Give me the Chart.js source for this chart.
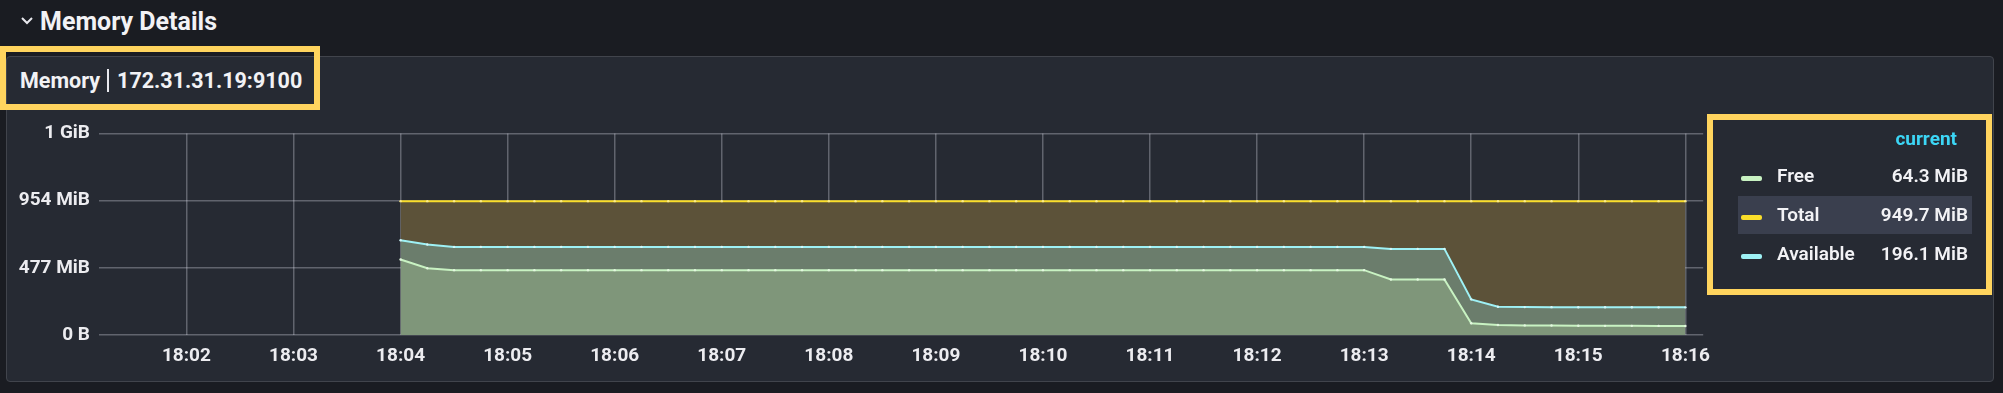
<!DOCTYPE html>
<html>
<head>
<meta charset="utf-8">
<script src="https://cdn.jsdelivr.net/npm/chart.js@4.4.1/dist/chart.umd.min.js"></script>
<style>
  html, body { margin: 0; padding: 0; }
  body { width: 2003px; height: 393px; background: #1a1c22; position: relative; overflow: hidden;
         font-family: Roboto, "Noto Sans", sans-serif; color: #f2f2f5; }
  .section { position: absolute; left: 40px; top: 6px; font-size: 25px; font-weight: 700; line-height: 32px; }
  .chev { position: absolute; left: 20px; top: 16px; }
  .panel { position: absolute; left: 6px; top: 56px; width: 1988px; height: 326px; background: #262a33;
           border: 1px solid #41444c; border-radius: 4px; box-sizing: border-box; }
  .hl { position: absolute; border: 6px solid #ffd45e; box-sizing: border-box; }
  .ptitle { position: absolute; left: 20px; top: 68px; font-size: 21.5px; font-weight: 700; line-height: 26px; }
  .ptitle .sep { display: inline-block; width: 2px; height: 23px; background: #e8e8ee; vertical-align: -4px; margin: 0 8px 0 7px; }
  #chart-wrap { position: absolute; left: 0; top: 113px; width: 1720px; height: 267px; }
  .legend { position: absolute; left: 1707px; top: 114px; width: 285px; height: 181px; }
  .lg-head { position: absolute; right: 35px; top: 13px; color: #3cd6f6; font-size: 19px; font-weight: 700; }
  .row { position: absolute; left: 31px; width: 234px; height: 38px; font-size: 19px; font-weight: 600; }
  .row.sel { background: #3a3f4e; }
  .row .sw { position: absolute; left: 3px; top: 19px; width: 21px; height: 5px; border-radius: 2px; }
  .row .nm { position: absolute; left: 39px; top: 7px; }
  .row .val { position: absolute; right: 4px; top: 7px; }
</style>
</head>
<body>
<svg class="chev" width="14" height="10"><polyline points="2,2 7,7 12,2" fill="none" stroke="#e8e8ee" stroke-width="2"/></svg>
<div class="section">Memory Details</div>
<div class="panel"></div>
<div class="hl" style="left:0;top:46px;width:320px;height:64px;"></div>
<div class="ptitle">Memory<span class="sep"></span>172.31.31.19:9100</div>
<div id="chart-wrap"><canvas id="chart-1"></canvas></div>
<div class="hl legend"></div>
<div class="legend" id="legend">
  <div class="lg-head">current</div>
</div>
<script>
// sample times (15 s step) and series values in MiB
const sampleTimes = [
  "18:04:00", "18:04:15", "18:04:30", "18:04:45",
  "18:05:00", "18:05:15", "18:05:30", "18:05:45",
  "18:06:00", "18:06:15", "18:06:30", "18:06:45",
  "18:07:00", "18:07:15", "18:07:30", "18:07:45",
  "18:08:00", "18:08:15", "18:08:30", "18:08:45",
  "18:09:00", "18:09:15", "18:09:30", "18:09:45",
  "18:10:00", "18:10:15", "18:10:30", "18:10:45",
  "18:11:00", "18:11:15", "18:11:30", "18:11:45",
  "18:12:00", "18:12:15", "18:12:30", "18:12:45",
  "18:13:00", "18:13:15", "18:13:30", "18:13:45",
  "18:14:00", "18:14:15", "18:14:30", "18:14:45",
  "18:15:00", "18:15:15", "18:15:30", "18:15:45",
  "18:16:00"
];

var freeMiB = [
  536, 474, 460, 460,
  460, 460, 460, 460,
  460, 460, 460, 460,
  460, 460, 460, 460,
  460, 460, 460, 460,
  460, 460, 460, 460,
  460, 460, 460, 460,
  460, 460, 460, 460,
  460, 460, 460, 460,
  460, 394, 394, 394,
  83, 71, 68, 67,
  66, 65, 65, 64.5,
  64.3
];

var totalMiB = [
  949.7, 949.7, 949.7, 949.7,
  949.7, 949.7, 949.7, 949.7,
  949.7, 949.7, 949.7, 949.7,
  949.7, 949.7, 949.7, 949.7,
  949.7, 949.7, 949.7, 949.7,
  949.7, 949.7, 949.7, 949.7,
  949.7, 949.7, 949.7, 949.7,
  949.7, 949.7, 949.7, 949.7,
  949.7, 949.7, 949.7, 949.7,
  949.7, 949.7, 949.7, 949.7,
  949.7, 949.7, 949.7, 949.7,
  949.7, 949.7, 949.7, 949.7,
  949.7
];

var availableMiB = [
  672, 642, 625, 625,
  625, 625, 625, 625,
  625, 625, 625, 625,
  625, 625, 625, 625,
  625, 625, 625, 625,
  625, 625, 625, 625,
  625, 625, 625, 625,
  625, 625, 625, 625,
  625, 625, 625, 625,
  625, 611, 611, 611,
  253, 200, 198, 197.5,
  197, 196.8, 196.5, 196.3,
  196.1
];

const xTickLabels = ["18:02", "18:03", "18:04", "18:05", "18:06", "18:07", "18:08", "18:09",
                     "18:10", "18:11", "18:12", "18:13", "18:14", "18:15", "18:16"];
const yTickLabels = ["0 B", "477 MiB", "954 MiB", "1 GiB"];
const yTickValues = [0, 476.84, 953.67, 1430.51];

const legendItems = [
  { name: "Free", color: "#c8f2c2", current: "64.3 MiB" },
  { name: "Total", color: "#fade2a", current: "949.7 MiB" },
  { name: "Available", color: "#9ef1f5", current: "196.1 MiB" },
];

// minutes after 18:00
function toMin(t) {
  var p = t.split(":");
  return (+p[0] - 18) * 60 + +p[1] + +p[2] / 60;
}
function pts(arr) {
  return arr.map(function (v, i) { return { x: toMin(sampleTimes[i]), y: v }; });
}

var legendEl = document.getElementById("legend");
legendItems.forEach(function (it, i) {
  var r = document.createElement("div");
  r.className = "row" + (i === 1 ? " sel" : "");
  r.style.top = (43 + i * 39) + "px";
  r.innerHTML = '<div class="sw" style="background:' + it.color + '"></div><div class="nm">' + it.name +
    '</div><div class="val">' + it.current + '</div>';
  legendEl.appendChild(r);
});

const ctx1 = document.getElementById("chart-1");
var gridColor = "rgba(225,225,235,0.32)";
var tickFont = { family: "Roboto", size: 19, weight: "bold" };

new Chart(ctx1, {
  type: "line",
  data: {
    datasets: [
      { label: "Free", data: pts(freeMiB), borderColor: legendItems[0].color, backgroundColor: "#7f967a",
        fill: "origin", borderWidth: 2, pointRadius: 1.2, pointBorderWidth: 0, pointBackgroundColor: "#e3f7df", tension: 0 },
      { label: "Total", data: pts(totalMiB), borderColor: legendItems[1].color, backgroundColor: "#5c5239",
        fill: 2, borderWidth: 2, pointRadius: 1.2, pointBorderWidth: 0, pointBackgroundColor: "#fbeb8a", tension: 0 },
      { label: "Available", data: pts(availableMiB), borderColor: legendItems[2].color, backgroundColor: "#6b7d6c",
        fill: 0, borderWidth: 2, pointRadius: 1.2, pointBorderWidth: 0, pointBackgroundColor: "#d2f8fa", tension: 0 },
    ],
  },
  options: {
    responsive: true,
    maintainAspectRatio: false,
    animation: false,
    layout: { padding: { top: 0, right: 15, left: 0, bottom: 0 } },
    plugins: {
      legend: { display: false },
      tooltip: { enabled: false },
      filler: { drawTime: "beforeDatasetsDraw" },
    },
    scales: {
      x: {
        type: "linear",
        min: toMin("18:01:11"),
        max: toMin("18:16:10"),
        z: 1,
        border: { display: false },
        grid: { color: gridColor, lineWidth: 1.5, drawTicks: false },
        afterBuildTicks: function (s) {
          s.ticks = xTickLabels.map(function (l) { return { value: toMin(l + ":00") }; });
        },
        afterFit: function (s) { s.height = 45; },
        ticks: {
          color: "#ececf0",
          font: tickFont,
          padding: 10,
          maxRotation: 0,
          autoSkip: false,
          callback: function (v, i) { return xTickLabels[i]; },
        },
      },
      y: {
        min: 0,
        max: yTickValues[3],
        z: 1,
        border: { display: false },
        grid: { color: gridColor, lineWidth: 1.5, drawTicks: false },
        afterBuildTicks: function (s) {
          s.ticks = yTickValues.map(function (v) { return { value: v }; });
        },
        afterFit: function (s) { s.width = 99; },
        ticks: {
          color: "#ececf0",
          font: tickFont,
          padding: 9,
          callback: function (v, i) { return yTickLabels[i]; },
        },
      },
    },
  },
});
</script>
</body>
</html>
